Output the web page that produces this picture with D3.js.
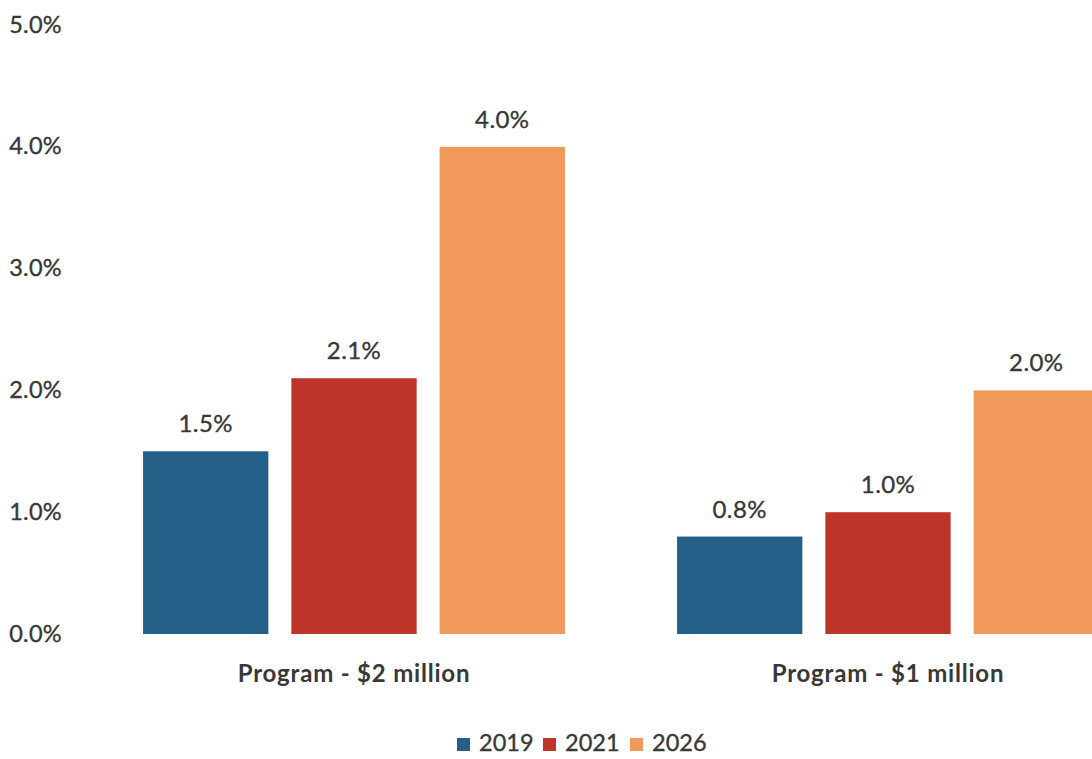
<!DOCTYPE html>
<html>
<head>
<meta charset="utf-8">
<script src="https://cdn.jsdelivr.net/npm/d3@7"></script>
<style>
  html, body { margin: 0; padding: 0; background: #fff; }
  svg { display: block; }
  text { font-family: Lato, "Open Sans", sans-serif; fill: #383838; }
</style>
</head>
<body>
<svg id="chart" width="1092" height="759"></svg>
<script>
// Program cost share by year
const categories = ["Program - $2 million", "Program - $1 million"];
const seriesNames = ["2019", "2021", "2026"];
const values2019 = [1.5, 0.8];
const values2021 = [2.1, 1.0];
const values2026 = [4.0, 2.0];
const seriesColors = ["#235f86", "#bd3529", "#f0995a"];
const yTicks = [0, 1, 2, 3, 4, 5];

const seriesValues = [values2019, values2021, values2026];
const rows = categories.map((c, i) => ({
  category: c,
  bars: seriesNames.map((s, j) => ({ series: s, value: seriesValues[j][i], color: seriesColors[j] }))
}));

const svg = d3.select("#chart");

const x0 = d3.scaleBand()
  .domain(categories)
  .range([87, 1155])
  .paddingInner(0.21)
  .paddingOuter(0.105);

const x1 = d3.scaleBand()
  .domain(seriesNames)
  .range([0, x0.bandwidth()])
  .paddingInner(0.155)
  .paddingOuter(0);

const y = d3.scaleLinear().domain([0, 5]).range([634, 25]);

const fmt = d => d3.format(".1f")(d) + "%";

// y axis labels (no axis line, no gridlines)
const yAxis = d3.axisLeft(y).tickValues(yTicks).tickFormat(fmt).tickSize(0).tickPadding(0);
const gy = svg.append("g").attr("transform", "translate(62,0)").call(yAxis);
gy.select(".domain").remove();
gy.selectAll("text")
  .attr("font-size", 23.5)
  .attr("font-family", "Lato, sans-serif")
  .attr("fill", "#383838")
  .attr("stroke", "#383838")
  .attr("stroke-width", 0.35)
  .attr("letter-spacing", 0.3)
  .attr("dy", "0.3em");

// category labels
const xAxis = d3.axisBottom(x0).tickSize(0).tickPadding(0);
const gx = svg.append("g").attr("transform", "translate(0,682)").call(xAxis);
gx.select(".domain").remove();
gx.selectAll("text")
  .attr("font-size", 24)
  .attr("font-weight", "bold")
  .attr("font-family", "Lato, sans-serif")
  .attr("fill", "#383838")
  .attr("letter-spacing", 0.8)
  .attr("dy", 0)
  .attr("y", 0);

// bars
const groups = svg.append("g").selectAll("g")
  .data(rows)
  .join("g")
  .attr("transform", d => `translate(${x0(d.category)},0)`);

groups.selectAll("rect")
  .data(d => d.bars)
  .join("rect")
  .attr("x", d => x1(d.series))
  .attr("y", d => y(d.value))
  .attr("width", x1.bandwidth())
  .attr("height", d => y(0) - y(d.value))
  .attr("fill", d => d.color);

groups.selectAll("text.val")
  .data(d => d.bars)
  .join("text")
  .attr("class", "val")
  .attr("x", d => x1(d.series) + x1.bandwidth() / 2)
  .attr("y", d => y(d.value) - 19)
  .attr("text-anchor", "middle")
  .attr("font-size", 24)
  .attr("stroke", "#383838")
  .attr("stroke-width", 0.35)
  .attr("letter-spacing", 0.4)
  .text(d => fmt(d.value));

// legend
const legend = svg.append("g").attr("transform", "translate(457,743)");
const legendX = [0, 86, 173];
const items = legend.selectAll("g")
  .data(seriesNames.map((s, i) => ({ name: s, color: seriesColors[i] })))
  .join("g")
  .attr("transform", (d, i) => `translate(${legendX[i]},0)`);
items.append("rect")
  .attr("x", 0).attr("y", -5)
  .attr("width", 13).attr("height", 13)
  .attr("fill", d => d.color);
items.append("text")
  .attr("x", 22).attr("y", 0)
  .attr("dy", "0.36em")
  .attr("font-size", 23.5)
  .attr("stroke", "#383838")
  .attr("stroke-width", 0.35)
  .text(d => d.name);
</script>
</body>
</html>
